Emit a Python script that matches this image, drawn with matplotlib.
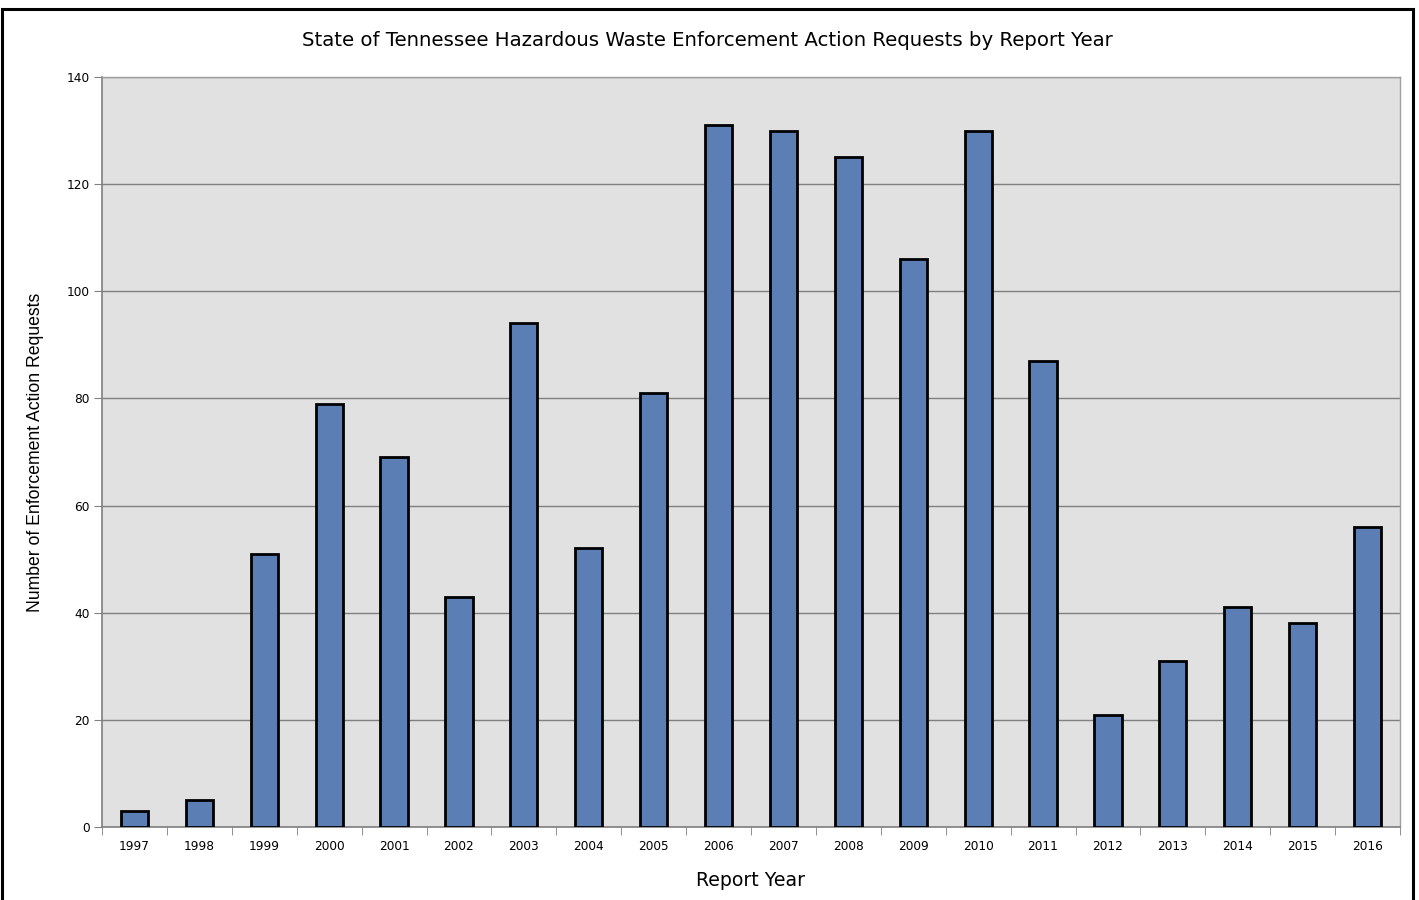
import matplotlib
matplotlib.use("Agg")
import matplotlib.pyplot as plt
from matplotlib.patches import Rectangle
import numpy as np

years = ["1997", "1998", "1999", "2000", "2001", "2002", "2003", "2004", "2005", "2006",
         "2007", "2008", "2009", "2010", "2011", "2012", "2013", "2014", "2015", "2016"]
requests = [3, 5, 51, 79, 69, 43, 94, 52, 81, 131, 130, 125, 106, 130, 87, 21, 31, 41, 38, 56]
yticks = [0, 20, 40, 60, 80, 100, 120, 140]

W, H = 1419, 900
fig = plt.figure(figsize=(W / 100, H / 100), dpi=100)
fig.patch.set_facecolor("white")

# outer frame
fig.patches.append(Rectangle((1.5 / W, -0.05), 1411.5 / W, 1 - 8.5 / H + 0.05,
                             transform=fig.transFigure, fill=False,
                             edgecolor="black", linewidth=2.2, zorder=0))

ax = fig.add_axes([102 / W, 1 - 827 / H, (1400 - 102) / W, (827 - 77) / H])
ax.set_facecolor("#E1E1E1")

x = np.arange(len(years))
ax.bar(x, requests, width=0.42, color="#5B7FB4", edgecolor="black", linewidth=2.0, zorder=3)

ax.set_xlim(-0.5, len(years) - 0.5)
ax.set_ylim(0, 140)
ax.set_yticks(yticks)
ax.yaxis.grid(True, color="#808080", linewidth=1.0, zorder=1)
ax.set_axisbelow(True)

ax.set_xticks(x)
ax.set_xticklabels(years, fontsize=8.7)
ax.set_xticks(np.arange(len(years) + 1) - 0.5, minor=True)
ax.tick_params(axis="x", which="major", length=0, pad=9)
ax.tick_params(axis="x", which="minor", length=6, color="#808080", direction="out")
ax.tick_params(axis="y", labelsize=8.7, length=6, color="#808080", direction="out", pad=3)

for side in ["top", "right"]:
    ax.spines[side].set_color("#A0A0A0")
    ax.spines[side].set_linewidth(1.0)
for side in ["left", "bottom"]:
    ax.spines[side].set_color("#808080")
    ax.spines[side].set_linewidth(1.2)

fig.text(707 / W, 1 - 40 / H, "State of Tennessee Hazardous Waste Enforcement Action Requests by Report Year",
         ha="center", va="center", fontsize=14.2)
fig.text(750 / W, 1 - 880 / H, "Report Year", ha="center", va="center", fontsize=13.6)
fig.text(36 / W, 1 - 452 / H, "Number of Enforcement Action Requests", ha="center", va="center",
         rotation=90, fontsize=12.7, family=["Liberation Sans", "DejaVu Sans"])

fig.savefig("out.png", dpi=100)
